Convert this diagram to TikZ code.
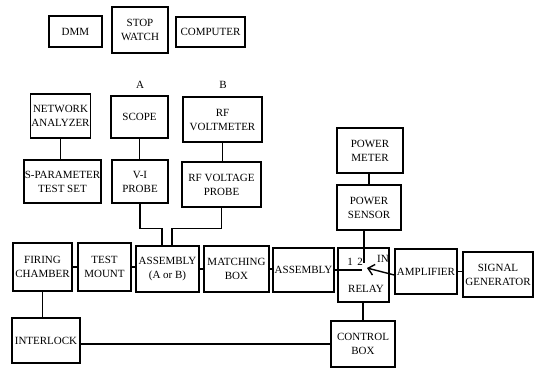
\documentclass[tikz,border=0pt]{standalone}
\usepackage{fontspec}
\setmainfont{Liberation Serif}
\usetikzlibrary{arrows.meta}

\begin{document}
\begin{tikzpicture}[x=1pt, y=-1pt, line width=1.4pt,
    blk/.style={draw, inner sep=1pt, align=center, font=\fontsize{11}{14}\selectfont},
    lbl/.style={inner sep=0pt, font=\fontsize{11}{14}\selectfont}]
    \useasboundingbox (0,0) rectangle (545,372);
    % instruments on top
    \node[blk, minimum width=53pt, minimum height=31pt] (dmm) at (75.5,31.5) {DMM};
    \node[blk, minimum width=56pt, minimum height=46pt] (watch) at (140,30) {STOP\\WATCH};
    \node[blk, minimum width=69pt, minimum height=30pt] (computer) at (210.5,32) {COMPUTER};
    \node[lbl] (labA) at (140,85) {A};
    \node[lbl] (labB) at (223,85) {B};
    % measuring chains
    \node[blk, minimum width=59pt, minimum height=44pt] (netan) at (60.5,116) {NETWORK\\ANALYZER};
    \node[blk, minimum width=57pt, minimum height=42pt] (scope) at (139.5,117) {SCOPE};
    \node[blk, minimum width=79pt, minimum height=45pt] (rfvolt) at (222.5,119.5) {RF\\VOLTMETER};
    \node[blk, minimum width=75pt, minimum height=43pt] (sparam) at (62.5,181.5) {S-PARAMETER\\TEST SET};
    \node[blk, minimum width=56pt, minimum height=43pt] (viprobe) at (140,181.5) {V-I\\PROBE};
    \node[blk, minimum width=79pt, minimum height=45pt] (rfprobe) at (221.5,184.5) {RF VOLTAGE\\PROBE};
    \node[blk, minimum width=66pt, minimum height=45pt] (pmeter) at (370,150.5) {POWER\\METER};
    \node[blk, minimum width=64pt, minimum height=45pt] (psensor) at (369,207.5) {POWER\\SENSOR};
    % main row
    \node[blk, minimum width=59pt, minimum height=48pt] (firing) at (42.5,267) {FIRING\\CHAMBER};
    \node[blk, minimum width=53pt, minimum height=48pt] (mount) at (104.5,267) {TEST\\MOUNT};
    \node[blk, minimum width=63pt, minimum height=46pt] (assembly) at (167.5,269) {ASSEMBLY\\(A or B)};
    \node[blk, minimum width=65pt, minimum height=46pt] (matching) at (236.5,269) {MATCHING\\BOX};
    \node[blk, minimum width=61pt, minimum height=44pt] (assembl) at (303.5,270) {ASSEMBLY};
    \node[blk, minimum width=51pt, minimum height=54pt] (relay) at (363.5,275) {};
    \node[blk, minimum width=62pt, minimum height=45pt] (amp) at (426,271.5) {AMPLIFIER};
    \node[blk, minimum width=70pt, minimum height=45pt] (siggen) at (498,274.5) {SIGNAL\\GENERATOR};
    \node[blk, minimum width=68pt, minimum height=45pt] (interlock) at (46,340.5) {INTERLOCK};
    \node[blk, minimum width=64pt, minimum height=46pt] (control) at (363,344) {CONTROL\\BOX};
    % relay contacts
    \node[lbl] (one) at (350,262) {1};
    \node[lbl] (two) at (360,262) {2};
    \node[lbl] (in) at (383,259) {IN};
    \node[lbl] (relaytxt) at (366,289) {RELAY};
    \coordinate (c1) at (362,270);
    \coordinate (c2) at (364,263);
    \coordinate (tip) at (367,268);
    % connections
    \draw (netan.south) -- (netan.south |- sparam.north);
    \draw (scope.south) -- (scope.south |- viprobe.north);
    \draw (rfvolt.south) -- (rfvolt.south |- rfprobe.north);
    \draw (pmeter.south -| psensor.north) -- (psensor.north);
    \draw (viprobe.south) -- ++(0,25) -| ([xshift=-5.5pt]assembly.north);
    \draw (rfprobe.south) -- ++(0,21) -| ([xshift=4.5pt]assembly.north);
    \draw (firing.east) -- (mount.west |- firing.east);
    \draw (mount.east) -- (assembly.west |- mount.east);
    \draw (assembly.east) -- (matching.west);
    \draw (matching.east) -- (assembl.west |- matching.east);
    \draw (assembl.east) -- (c1);
    \draw (psensor.south -| c2) -- (c2);
    \draw[-{Straight Barb[length=6pt,width=11pt]}] ([yshift=-3.5pt]amp.west) -- (tip);
    \draw (amp.east) -- (siggen.west |- amp.east);
    \draw (relay.south -| control.north) -- (control.north);
    \draw (control.west) -- (interlock.east |- control.west);
    \draw (firing.south) -- (firing.south |- interlock.north);
\end{tikzpicture}
\end{document}
